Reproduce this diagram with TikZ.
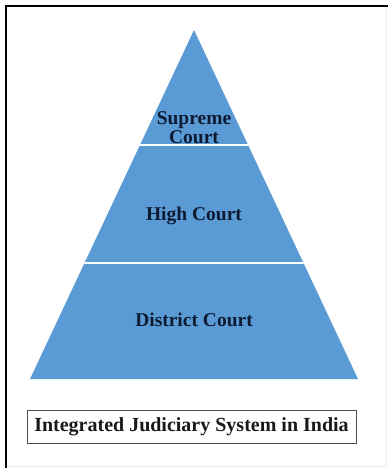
\documentclass[tikz,border=0pt]{standalone}
\usepackage{fontspec}
\setmainfont{Liberation Serif}
\usetikzlibrary{positioning}
\definecolor{tierblue}{HTML}{5B9BD5}
\definecolor{labelnavy}{HTML}{0E1B33}
\tikzset{
  tierlabel/.style={font=\fontsize{19.5}{19}\selectfont\bfseries, text=labelnavy, align=center, inner sep=0pt},
  captionbox/.style={draw=black!70, line width=0.8pt, font=\fontsize{20}{22}\selectfont\bfseries, text=black!90, minimum width=329pt, minimum height=33pt, inner sep=0pt}
}
\begin{document}
\begin{tikzpicture}[x=1pt, y=-1pt]
\useasboundingbox (0,0) rectangle (388,470);

% frame
\draw [black!8, line width=0.8pt] (386,6) -- (386,466) -- (6,466);
\draw [black, line width=2.6pt] (6,468) -- (6,6) -- (388,6);

% pyramid
\coordinate (apex) at (194,30);
\coordinate (baseL) at (30,379);
\coordinate (baseR) at (358,379);
\fill [tierblue] (apex) -- (baseR) -- (baseL) -- cycle;
\begin{scope}
  \clip (apex) -- (baseR) -- (baseL) -- cycle;
  \foreach \y in {145,263}
    \draw [white, line width=1.4pt] (20,\y) -- (368,\y);
\end{scope}

% labels
\node [tierlabel] (supreme) at (194,128) {Supreme\\Court};
\node [tierlabel] (high) at (194,216) {High Court};
\node [tierlabel] (district) at (194,320) {District Court};

\node [captionbox] (caption) at (191.5,426.5) {Integrated Judiciary System in India};
\end{tikzpicture}
\end{document}
